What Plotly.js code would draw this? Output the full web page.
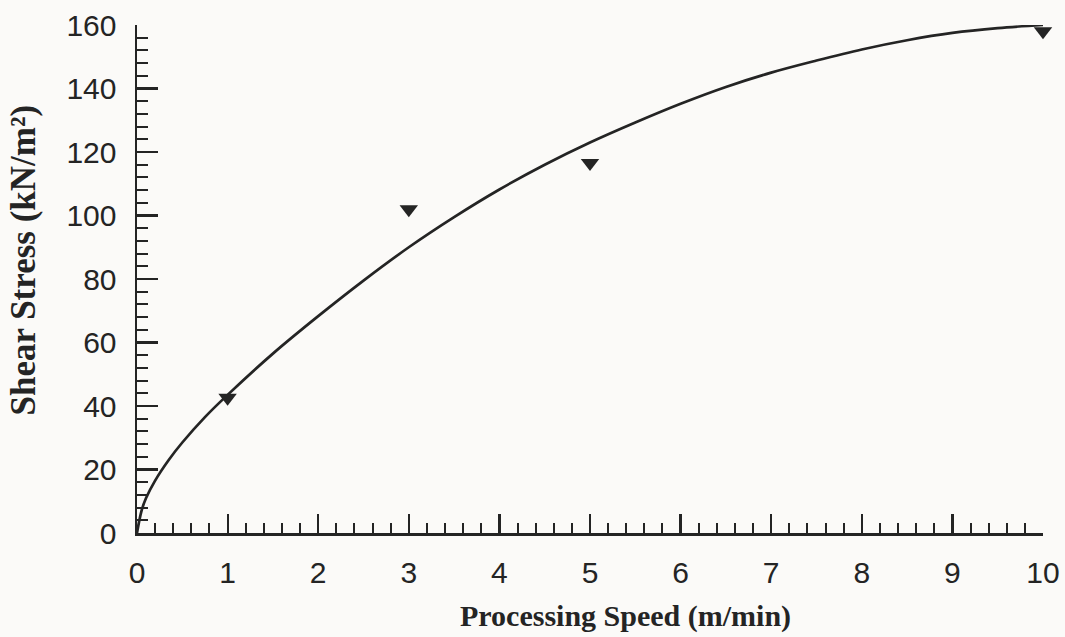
<!DOCTYPE html>
<html>
<head>
<meta charset="utf-8">
<script src="https://cdn.plot.ly/plotly-3.0.1.min.js"></script>
<style>
  html, body { margin: 0; padding: 0; background: #fbfaf8; }
  #chart { width: 1065px; height: 637px; }
</style>
</head>
<body>
<div id="chart"></div>
<script>
// Measured data points (triangles)
const speedPoints = [1, 3, 5, 10];
const stressPoints = [42.6, 102, 116.5, 158];

// Fitted curve
const curveSpeed = [0, 0.05, 0.1, 0.2, 0.35, 0.5, 0.75, 1, 1.5, 2, 2.5, 3, 3.5, 4, 4.5, 5, 5.5, 6, 6.5, 7, 7.5, 8, 8.5, 9, 9.5, 10];
const curveStress = [0, 7, 11, 16.5, 23, 28.5, 36.5, 43.5, 56.5, 68.3, 79.5, 90, 99.5, 108.2, 116, 123, 129.3, 135.2, 140.5, 145, 148.8, 152.3, 155.2, 157.5, 159, 160];

const xTickVals = [0, 1, 2, 3, 4, 5, 6, 7, 8, 9, 10];
const yTickVals = [0, 20, 40, 60, 80, 100, 120, 140, 160];

const xTitle = 'Processing Speed (m/min)';
const yTitle = 'Shear Stress (kN/m²)';

const ink = '#242424';
const serif = 'Liberation Serif, Times New Roman, serif';
const sans = 'Liberation Sans, Arial, sans-serif';

const traces = [
  {
    x: curveSpeed, y: curveStress,
    type: 'scatter', mode: 'lines',
    line: { color: ink, width: 2.7, shape: 'spline', smoothing: 1 },
    hoverinfo: 'skip', cliponaxis: false
  },
  {
    x: speedPoints, y: stressPoints,
    type: 'scatter', mode: 'markers',
    marker: { symbol: 'triangle-down', size: 16, color: ink },
    cliponaxis: false
  }
];

const layout = {
  width: 1065, height: 637,
  paper_bgcolor: '#fbfaf8', plot_bgcolor: 'rgba(0,0,0,0)',
  showlegend: false,
  margin: { l: 137, r: 22, t: 25, b: 104 },
  xaxis: {
    range: [0, 10], fixedrange: true,
    showline: true, linecolor: ink, linewidth: 2.5,
    showgrid: false, zeroline: false,
    tickmode: 'array', tickvals: xTickVals, ticktext: xTickVals.map(String),
    ticks: 'inside', ticklen: 19, tickwidth: 2.2, tickcolor: ink,
    minor: { dtick: 0.2, ticks: 'inside', ticklen: 10, tickwidth: 2, tickcolor: ink, showgrid: false },
    tickfont: { family: sans, size: 30, color: ink },
    ticklabelstandoff: 11
  },
  yaxis: {
    range: [0, 160], fixedrange: true,
    showline: true, linecolor: ink, linewidth: 2.5,
    showgrid: false, zeroline: false,
    tickmode: 'array', tickvals: yTickVals, ticktext: yTickVals.map(String),
    ticks: 'inside', ticklen: 21, tickwidth: 2.2, tickcolor: ink,
    minor: { dtick: 4, ticks: 'inside', ticklen: 11, tickwidth: 2, tickcolor: ink, showgrid: false },
    tickfont: { family: sans, size: 30, color: ink },
    ticklabelstandoff: 12
  },
  annotations: [
    {
      text: xTitle, xref: 'paper', yref: 'paper',
      x: (625 - 137) / 906, y: -(615 - 532) / 507,
      xanchor: 'center', yanchor: 'middle', showarrow: false,
      font: { family: serif, size: 30, weight: 'bold', color: ink }
    },
    {
      text: yTitle, xref: 'paper', yref: 'paper', textangle: -90,
      x: -(137 - 23) / 906, y: (532 - 260) / 507,
      xanchor: 'center', yanchor: 'middle', showarrow: false,
      font: { family: serif, size: 35, weight: 'bold', color: ink }
    }
  ]
};

Plotly.newPlot('chart', traces, layout, { displayModeBar: false, staticPlot: true });
</script>
</body>
</html>
